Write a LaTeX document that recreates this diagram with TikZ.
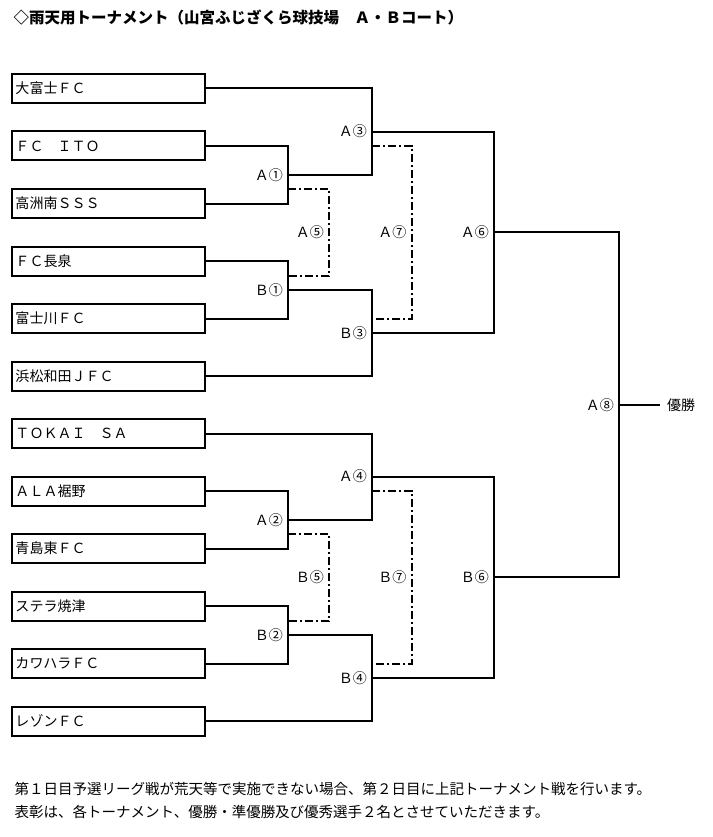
\documentclass[tikz,border=0pt]{standalone}
\usepackage{fontspec}
\setmainfont{Noto Sans CJK JP}
\usetikzlibrary{positioning}

\begin{document}
\begin{tikzpicture}[x=1pt, y=-1pt, node distance=57.5pt,
    team node/.style={draw, line width=2pt, minimum height=29pt, text width=186pt, inner xsep=3.5pt, align=left, font=\fontsize{14}{16}\selectfont},
    match label/.style={left, inner sep=5pt, font=\fontsize{14}{16}\selectfont},
    win line/.style={line width=2pt},
    lose line/.style={line width=2pt, dash pattern=on 8pt off 3pt on 2pt off 3pt}]
        \useasboundingbox (0,0) rectangle (712,837);
        \node[anchor=west, font=\fontsize{15.5}{18}\selectfont\bfseries] (title) at (10,18) {◇雨天用トーナメント（山宮ふじざくら球技場　Ａ・Ｂコート）};

          % teams
          \node[team node] (t1) at (108.5,88.5) {大富士ＦＣ};
          \node[team node] (t2) [below of=t1] {ＦＣ　ＩＴＯ};
          \node[team node] (t3) [below of=t2] {高洲南ＳＳＳ};
          \node[team node] (t4) [below of=t3] {ＦＣ長泉};
          \node[team node] (t5) [below of=t4] {富士川ＦＣ};
          \node[team node] (t6) [below of=t5] {浜松和田ＪＦＣ};
          \node[team node] (t7) [below of=t6] {ＴＯＫＡＩ　ＳＡ};
          \node[team node] (t8) [below of=t7] {ＡＬＡ裾野};
          \node[team node] (t9) [below of=t8] {青島東ＦＣ};
          \node[team node] (t10) [below of=t9] {ステラ焼津};
          \node[team node] (t11) [below of=t10] {カワハラＦＣ};
          \node[team node] (t12) [below of=t11] {レゾンＦＣ};

          % match points
          \coordinate (mA1) at (288,174.75);
          \coordinate (mB1) at (288,289.75);
          \coordinate (mA2) at (288,519.75);
          \coordinate (mB2) at (288,634.75);
          \coordinate (mA5) at (329,232.25);
          \coordinate (mB5) at (329,577.25);
          \coordinate (mA3) at (372,131.625);
          \coordinate (mB3) at (372,332.875);
          \coordinate (mA4) at (372,476.625);
          \coordinate (mB4) at (372,677.875);
          \coordinate (mA7) at (411.5,232.25);
          \coordinate (mB7) at (411.5,577.25);
          \coordinate (mA6) at (494,232.25);
          \coordinate (mB6) at (494,577.25);
          \coordinate (mA8) at (619,404.75);
          \node[anchor=west, inner sep=7pt, font=\fontsize{14}{16}\selectfont] (champ) at (660,404.75) {優勝};

          \draw[win line] (t2.east) -| (mA1) |- (t3.east);
          \draw[win line] (t4.east) -| (mB1) |- (t5.east);
          \draw[win line] (t8.east) -| (mA2) |- (t9.east);
          \draw[win line] (t10.east) -| (mB2) |- (t11.east);
          \draw[win line] (t1.east) -| (mA3) |- (mA1);
          \draw[win line] (mB1) -| (mB3) |- (t6.east);
          \draw[win line] (t7.east) -| (mA4) |- (mA2);
          \draw[win line] (mB2) -| (mB4) |- (t12.east);
          \draw[win line] (mA3) -| (mA6) |- (mB3);
          \draw[win line] (mA4) -| (mB6) |- (mB4);
          \draw[win line] (mA6) -| (mA8) |- (mB6);
          \draw[win line] (mA8) -- (champ);

          \draw[lose line] ([yshift=-14pt]mA1) -| (mA5) |- ([yshift=14pt]mB1);
          \draw[lose line] ([yshift=-14pt]mA2) -| (mB5) |- ([yshift=14pt]mB2);
          \draw[lose line] ([yshift=-14pt]mA3) -| (mA7) |- ([yshift=14pt]mB3);
          \draw[lose line] ([yshift=-14pt]mA4) -| (mB7) |- ([yshift=14pt]mB4);

          % match labels
          \node[match label] (lA1) at (mA1) {Ａ①};
          \node[match label] (lB1) at (mB1) {Ｂ①};
          \node[match label] (lA2) at (mA2) {Ａ②};
          \node[match label] (lB2) at (mB2) {Ｂ②};
          \node[match label] (lA3) at (mA3) {Ａ③};
          \node[match label] (lB3) at (mB3) {Ｂ③};
          \node[match label] (lA4) at (mA4) {Ａ④};
          \node[match label] (lB4) at (mB4) {Ｂ④};
          \node[match label] (lA5) at (mA5) {Ａ⑤};
          \node[match label] (lB5) at (mB5) {Ｂ⑤};
          \node[match label] (lA6) at (mA6) {Ａ⑥};
          \node[match label] (lB6) at (mB6) {Ｂ⑥};
          \node[match label] (lA7) at (mA7) {Ａ⑦};
          \node[match label] (lB7) at (mB7) {Ｂ⑦};
          \node[match label] (lA8) at (mA8) {Ａ⑧};

          % notes
          \node[anchor=west, font=\fontsize{14.5}{17}\selectfont] (note1) at (11,789) {第１日目予選リーグ戦が荒天等で実施できない場合、第２日目に上記トーナメント戦を行います。};
          \node[anchor=west, font=\fontsize{14.5}{17}\selectfont] (note2) at (11,812) {表彰は、各トーナメント、優勝・準優勝及び優秀選手２名とさせていただきます。};
        \end{tikzpicture}
\end{document}
